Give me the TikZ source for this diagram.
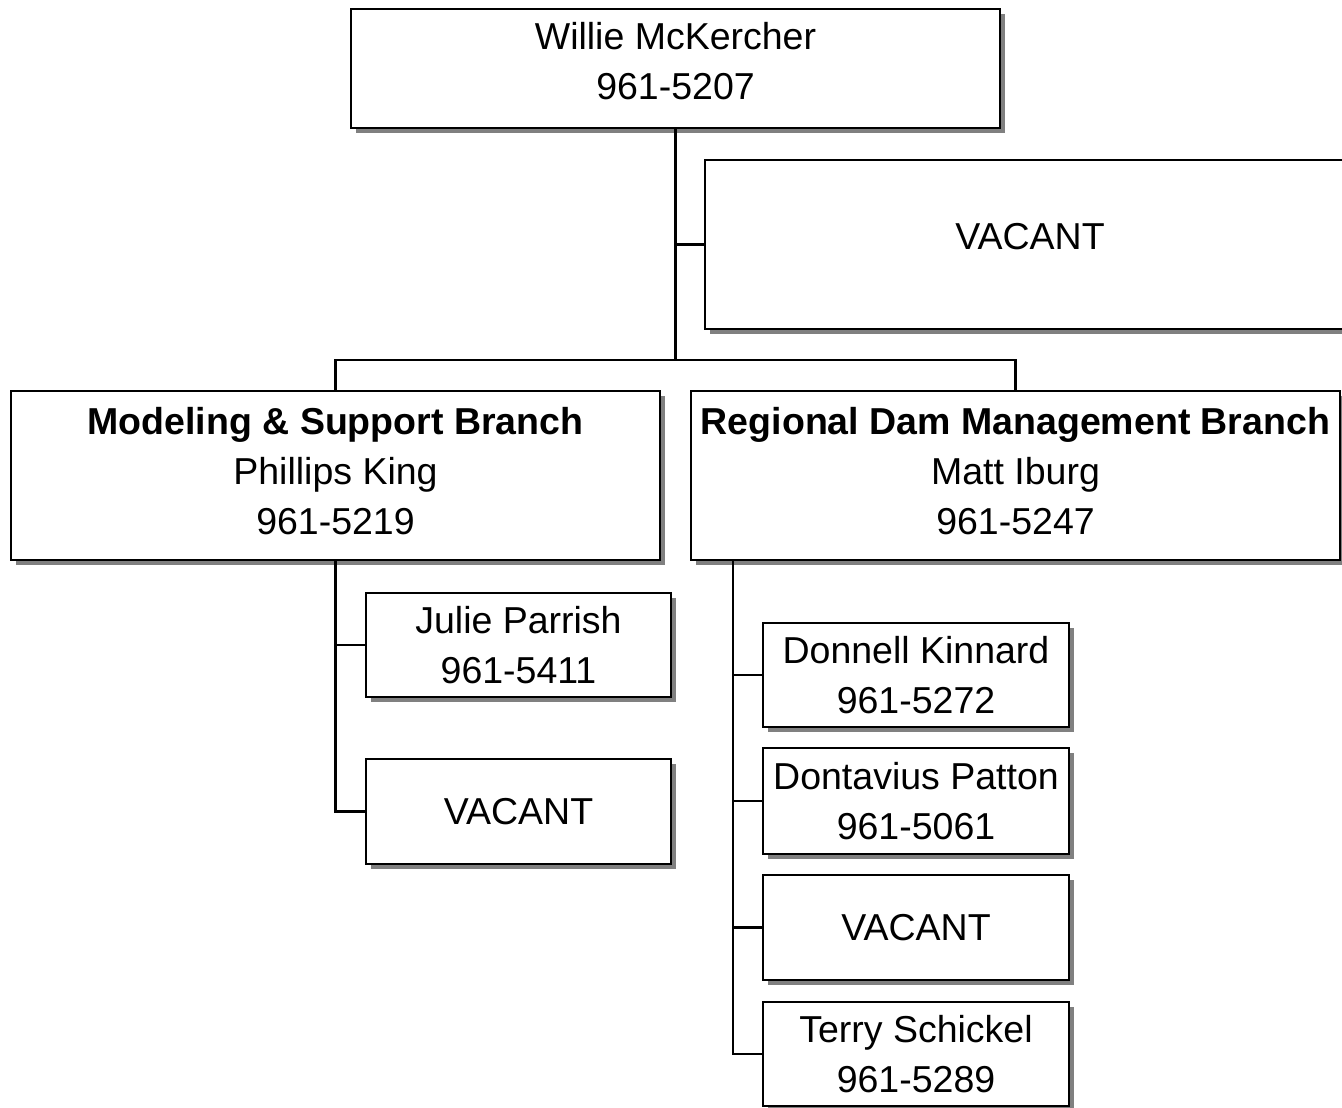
\documentclass[tikz,border=0pt]{standalone}
\usepackage{fontspec}
\setmainfont{Liberation Sans}
\usetikzlibrary{shadows}
\begin{document}
\begin{tikzpicture}[x=1pt,y=-1pt,
  box/.style={draw=black, line width=2.5pt, fill=white, inner sep=0pt, outer sep=0pt,
    align=center, font=\fontsize{37.5}{50}\selectfont,
    drop shadow={shadow xshift=5pt, shadow yshift=-5pt, fill=black!50, opacity=1}},
  conn/.style={draw=black, line width=2.5pt}]
\clip (0,0) rectangle (1342,1108);
\fill[white] (0,0) rectangle (1342,1108);
\node[box, minimum width=649pt, minimum height=119pt, text depth=16pt] (top) at (675.5,68.5) {Willie McKercher\\961-5207};
\node[box, minimum width=650pt, minimum height=169pt, text depth=16pt] (vac1) at (1030,244.5) {VACANT};
\node[box, minimum width=649pt, minimum height=169pt, text depth=10pt] (mod) at (335.5,475.5) {\textbf{Modeling \& Support Branch}\\Phillips King\\961-5219};
\node[box, minimum width=649pt, minimum height=169pt, text depth=10pt] (reg) at (1015.5,475.5) {\textbf{Regional Dam Management Branch}\\Matt Iburg\\961-5247};
\node[box, minimum width=305pt, minimum height=104pt] (julie) at (518.5,645) {Julie Parrish\\961-5411};
\node[box, minimum width=305pt, minimum height=105pt] (vacL) at (518.5,811.5) {VACANT};
\node[box, minimum width=306pt, minimum height=104pt] (don) at (916,675) {Donnell Kinnard\\961-5272};
\node[box, minimum width=306pt, minimum height=106pt] (dont) at (916,801) {Dontavius Patton\\961-5061};
\node[box, minimum width=306pt, minimum height=105pt] (vacR) at (916,927.5) {VACANT};
\node[box, minimum width=306pt, minimum height=104pt] (terry) at (916,1054) {Terry Schickel\\961-5289};
\coordinate (j) at (top.south |- 0,360);
\coordinate (rj) at ([xshift=42pt]reg.south west);
\draw[conn] (top.south) -- (j);
\draw[conn] (top.south |- vac1.west) -- (vac1.west);
\draw[conn] (mod.north) |- (j) -| (reg.north);
\draw[conn] (mod.south) |- (vacL.west);
\draw[conn] (mod.south |- julie.west) -- (julie.west);
\draw[conn] (rj) |- (terry.west);
\draw[conn] (rj |- don.west) -- (don.west);
\draw[conn] (rj |- dont.west) -- (dont.west);
\draw[conn] (rj |- vacR.west) -- (vacR.west);
\end{tikzpicture}
\end{document}
